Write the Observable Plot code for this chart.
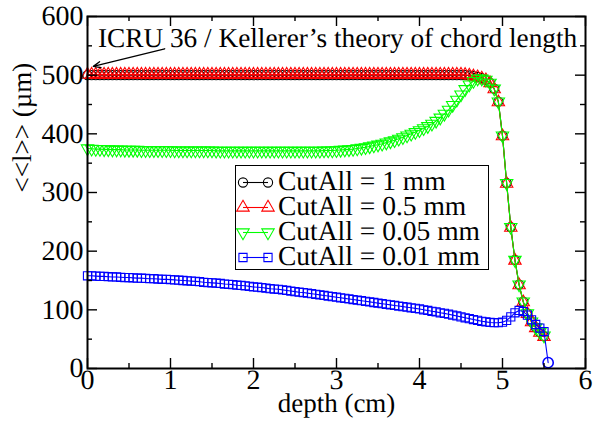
<!DOCTYPE html>
<html><head><meta charset="utf-8">
<script src="https://cdn.jsdelivr.net/npm/d3@7"></script>
<script src="https://cdn.jsdelivr.net/npm/@observablehq/plot@0.6"></script>
<style>
body{margin:0;background:#fff;}
#wrap{position:relative;width:593px;height:421px;font-family:'Liberation Serif','DejaVu Serif',serif;text-rendering:geometricPrecision;}
#wrap svg text{font-family:'Liberation Serif','DejaVu Serif',serif;text-rendering:geometricPrecision;}
#legend{position:absolute;left:235px;top:165px;width:254px;height:105px;border:1.5px solid #000;background:#fff;box-sizing:border-box;}
.row{position:absolute;left:0;height:25px;display:flex;align-items:center;white-space:nowrap;font-family:'Liberation Serif','DejaVu Serif',serif;text-rendering:geometricPrecision;}
.row svg{display:block;}
.row span{display:inline-block;font-size:24px;line-height:25px;transform:scale(1.146);transform-origin:left center;}
</style></head><body><div id="wrap"></div>
<script>
// ---- data ----
const depth = [
0,0.05,0.1,0.15,0.2,0.25,0.3,0.35,0.4,0.45,
0.5,0.55,0.6,0.65,0.7,0.75,0.8,0.85,0.9,0.95,
1,1.05,1.1,1.15,1.2,1.25,1.3,1.35,1.4,1.45,
1.5,1.55,1.6,1.65,1.7,1.75,1.8,1.85,1.9,1.95,
2,2.05,2.1,2.15,2.2,2.25,2.3,2.35,2.4,2.45,
2.5,2.55,2.6,2.65,2.7,2.75,2.8,2.85,2.9,2.95,
3,3.05,3.1,3.15,3.2,3.25,3.3,3.35,3.4,3.45,
3.5,3.55,3.6,3.65,3.7,3.75,3.8,3.85,3.9,3.95,
4,4.05,4.1,4.15,4.2,4.25,4.3,4.35,4.4,4.45,
4.5,4.55,4.6,4.65,4.7,4.75,4.8,4.85,4.9,4.95,
5,5.05,5.1,5.15,5.2,5.25,5.3,5.35,5.4,5.45,
5.5,5.55];

const cut1mm = [
500,500,500,500,500,500,500,500,500,500,
500,500,500,500,500,500,500,500,500,500,
500,500,500,500,500,500,500,500,500,500,
500,500,500,500,500,500,500,500,500,500,
500,500,500,500,500,500,500,500,500,500,
500,500,500,500,500,500,500,500,500,500,
500,500,500,500,500,500,500,500,500,500,
500,500,500,500,500,500,500,500,500,500,
500,500,500,500,500,500,500,500,500,500,
500,500,499.5,498.5,497,495,492,487,477,455,
397,316,241,185,143,114,94,80,70,62,
55];

const cut05mm = [
501,501,501,501,501,501,501,501,501,501,
501,501,501,501,501,501,501,501,501,501,
501,501,501,501,501,501,501,501,501,501,
501,501,501,501,501,501,501,501,501,501,
501,501,501,501,501,501,501,501,501,501,
501,501,501,501,501,501,501,501,501,501,
501,501,501,501,501,501,501,501,501,501,
501,501,501,501,501,501,501,501,501,501,
501,501,501,501,501,501,501,501,501,501,
501,500.5,499.5,498,496.5,494.5,491.5,486.5,476,454,
396,315,240,184,142,113,93,79,69,61,
54];

const cut005mm = [
375,374.5,374,374,373.5,373.5,373,373,373,372.5,
372.5,372.5,372.5,372,372,372,372,372,372,372,
372,371.5,371.5,371.5,371.5,371.5,371.5,371.5,371.5,371.5,
371.5,371,371,371,371,371,371,371,371,371,
371,371,371,371,371,371,371,371,371,371,
371,371,371,371,371,371,371,371.5,371.5,371.5,
372,372.5,373,373.5,374,375,376,377,378.5,380,
381.5,383,385,387,389,391.5,394,397,400,403,
406,409.5,413,417,422,427.5,434,441,449,458,
467,476,484,490,494,494,492,487,477,455,
397,316,241,185,143,114,94,80,70,62,
56];

const cut001mm = [
158,158,157.5,157,157,156.5,156,156,155.5,155,
155,154.5,154,154,153.5,153,153,152.5,152,152,
151.5,151,150.5,150,149.5,149,148.5,148,147,146.5,
146,145.5,145,144,143.5,143,142,141.5,141,140,
139,138.5,138,137,136,135.5,135,134,133,132,
131,130,129.5,128.5,127.5,126.5,125.5,124.5,123.5,122.5,
121.5,120.5,119.5,118.5,117.5,116.5,115.5,114.5,113.5,112.5,
111.5,110.5,109.5,108.5,107.5,106.5,105.5,104.5,103.5,102.5,
101.5,100,99,97.5,96.5,95,94,92.5,91,89.5,
88,86.5,85,83.5,82,80.5,79.5,78.5,78,78,
79,82,88,95,99,97,91,83,75,69,
63,10];

const seriesNames = ["CutAll = 1 mm","CutAll = 0.5 mm","CutAll = 0.05 mm","CutAll = 0.01 mm"];
const seriesValues = [cut1mm, cut05mm, cut005mm, cut001mm];
const xTicks = [0,1,2,3,4,5,6];
const xMinor = [0.5,1.5,2.5,3.5,4.5,5.5];
const yTicks = [0,100,200,300,400,500,600];
const yMinor = [50,150,250,350,450,550];
const xLabel = "depth (cm)";
const yLabel = "<<l>> (µm)";
const annotText = "ICRU 36 / Kellerer’s theory of chord length";

// ---- styling ----
const W=593,H=421,mL=87,mR=8,mT=16,mB=53;
const innerW=W-mL-mR, innerH=H-mT-mB;
const FONT="'Liberation Serif','DejaVu Serif',serif";
const triDown = {draw(ctx,size){const s3=Math.sqrt(3);const y=-Math.sqrt(size/(s3*3));ctx.moveTo(0,-2*y);ctx.lineTo(s3*y,y);ctx.lineTo(-s3*y,y);ctx.closePath();}};
const colors = ["#000000","#ff0000","#00ff00","#0000ff"];
const symbols = ["circle","triangle",triDown,"square"];
const R = 4.6;

const series = seriesNames.map((name,k)=>({
  name, color: colors[k], symbol: symbols[k],
  rows: seriesValues[k].map((v,i)=>({depth: depth[i], value: v, idx: i}))
}));

const marks = [];
for (const s of series) {
  marks.push(Plot.line(s.rows,{x:"depth",y:"value",stroke:s.color,strokeWidth:1.1}));
  const last = s.rows.length-1;
  if (s.name === seriesNames[3]) {
    marks.push(Plot.dot(s.rows,{filter:d=>d.idx<last,x:"depth",y:"value",stroke:s.color,symbol:s.symbol,r:R,strokeWidth:1.1,fill:"none"}));
    marks.push(Plot.dot(s.rows,{filter:d=>d.idx===last,x:"depth",y:"value",stroke:s.color,symbol:"circle",r:R+0.5,strokeWidth:1.6,fill:"none"}));
  } else {
    marks.push(Plot.dot(s.rows,{x:"depth",y:"value",stroke:s.color,symbol:s.symbol,r:R,strokeWidth:1.1,fill:"none"}));
  }
}

const annot = {x: 0.125, y: 563};
const arrowSpec = {x1: 0.93, y1: 545, x2: 0.07, y2: 515};

const chart = Plot.plot({
  width: W, height: H,
  marginLeft: mL, marginRight: mR, marginTop: mT, marginBottom: mB,
  style: {fontFamily: FONT, background: "#fff", color: "#000", overflow: "visible"},
  x: {domain: [0,6]},
  y: {domain: [0,600]},
  marks: [
    ...marks,
    Plot.tickX(xTicks,{x:d=>d,insetTop:innerH-10,stroke:"#000",strokeWidth:1.4}),
    Plot.tickX(xTicks,{x:d=>d,insetBottom:innerH-10,stroke:"#000",strokeWidth:1.4}),
    Plot.tickX(xMinor,{x:d=>d,insetTop:innerH-5,stroke:"#000",strokeWidth:1.4}),
    Plot.tickX(xMinor,{x:d=>d,insetBottom:innerH-5,stroke:"#000",strokeWidth:1.4}),
    Plot.tickY(yTicks,{y:d=>d,insetRight:innerW-10,stroke:"#000",strokeWidth:1.4}),
    Plot.tickY(yTicks,{y:d=>d,insetLeft:innerW-10,stroke:"#000",strokeWidth:1.4}),
    Plot.tickY(yMinor,{y:d=>d,insetRight:innerW-5,stroke:"#000",strokeWidth:1.4}),
    Plot.tickY(yMinor,{y:d=>d,insetLeft:innerW-5,stroke:"#000",strokeWidth:1.4}),
    Plot.frame({stroke:"#000",strokeWidth:2}),
    Plot.axisX(xTicks,{tickSize:0,tickPadding:1,fontSize:28,label:null,tickFormat:d=>String(d)}),
    Plot.axisY(yTicks,{tickSize:0,tickPadding:4,fontSize:28,label:null,tickFormat:d=>String(d)}),
    Plot.text([xLabel],{frameAnchor:"bottom",dy:43,fontSize:27,text:d=>d}),
    Plot.text([yLabel],{frameAnchor:"left",dx:-65,rotate:-90,fontSize:27,text:d=>d}),
    Plot.text([annotText],{x:()=>annot.x,y:()=>annot.y,text:d=>d,textAnchor:"start",fontSize:27.3}),
    Plot.arrow([arrowSpec],{x1:"x1",y1:"y1",x2:"x2",y2:"y2",stroke:"#000",strokeWidth:1.3,headLength:9,headAngle:45})
  ]
});

const wrap = document.getElementById("wrap");
wrap.appendChild(chart);

const legend = document.createElement("div");
legend.id = "legend";
const rowTops = [4, 29, 54, 79];
series.forEach((s,k)=>{
  const row = document.createElement("div");
  row.className = "row";
  row.style.top = rowTops[k] + "px";
  const svg = d3.create("svg").attr("width",42).attr("height",25);
  svg.append("line").attr("x1",7).attr("x2",32).attr("y1",12.5).attr("y2",12.5).attr("stroke",s.color).attr("stroke-width",1.1);
  const sym = typeof s.symbol === "string" ? {circle:d3.symbolCircle,triangle:d3.symbolTriangle,square:d3.symbolSquare}[s.symbol] : s.symbol;
  const path = d3.symbol(sym, Math.PI*R*R)();
  [7,32].forEach(cx=>svg.append("path").attr("d",path).attr("transform",`translate(${cx},12.5)`).attr("fill","none").attr("stroke",s.color).attr("stroke-width",1.1));
  row.appendChild(svg.node());
  const span = document.createElement("span");
  span.textContent = s.name;
  row.appendChild(span);
  legend.appendChild(row);
});
wrap.appendChild(legend);
</script></body></html>
